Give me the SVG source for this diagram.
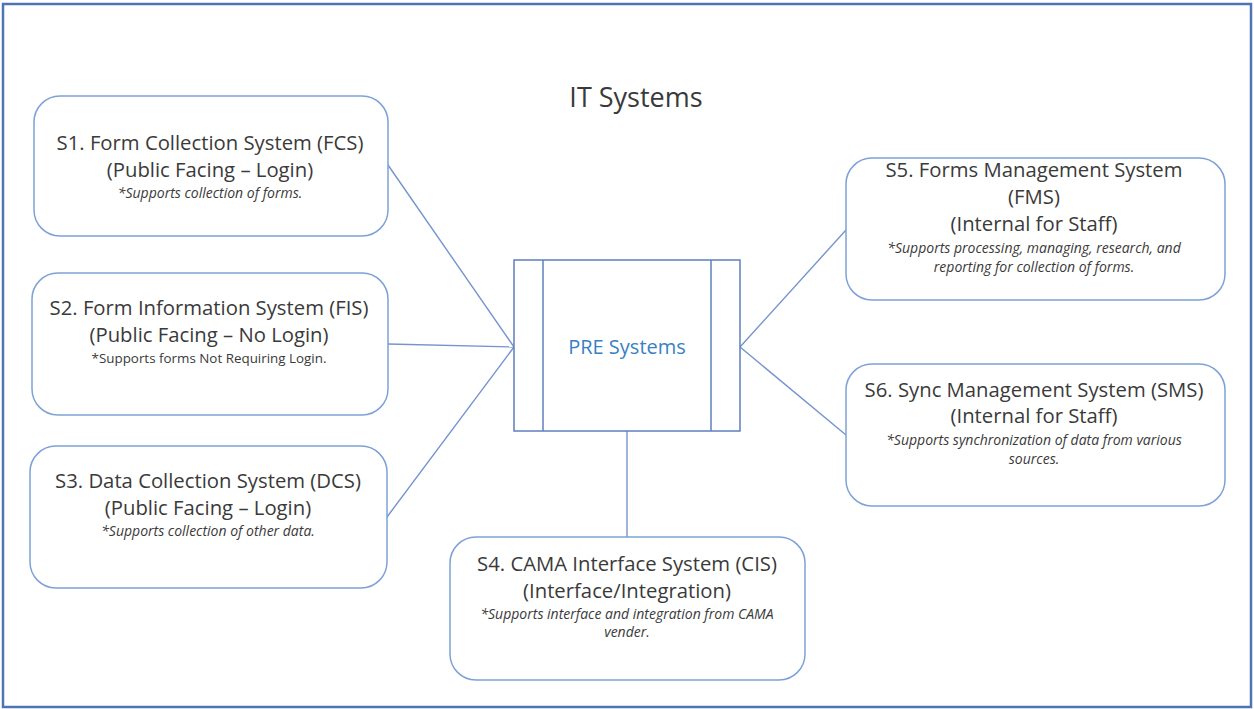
<svg xmlns="http://www.w3.org/2000/svg" width="1254" height="709" viewBox="0 0 1254 709">
  <style>
    .frame { fill: #ffffff; stroke: #4f74b6; stroke-width: 2.5; }
    .node { fill: #ffffff; stroke: #7ea1d8; stroke-width: 1.5; }
    .proc { fill: #ffffff; stroke: #5f7fbd; stroke-width: 1.5; }
    .conn line { stroke: #7593cf; stroke-width: 1.4; }
    text { font-family: "Open Sans", "Liberation Sans", sans-serif; fill: #3a3a3a; text-anchor: middle; }
    .title { font-size: 27px; }
    .main { font-size: 20.3px; }
    .note { font-size: 14px; font-style: italic; }
    .plain { font-size: 13.4px; }
    .pre { font-size: 20px; fill: #3a7fc4; }
  </style>

  <rect class="frame" x="3" y="4" width="1248" height="703"/>
  <text class="title" x="636" y="107">IT Systems</text>

  <!-- connectors between PRE Systems and each subsystem -->
  <g id="connectors" class="conn">
    <line x1="388" y1="165" x2="514" y2="347"/>
    <line x1="388" y1="344" x2="514" y2="347"/>
    <line x1="387" y1="517" x2="514" y2="347"/>
    <line x1="627" y1="431" x2="627" y2="537"/>
    <line x1="846" y1="230" x2="740" y2="347"/>
    <line x1="846" y1="435" x2="740" y2="347"/>
  </g>

  <g id="pre-systems">
    <rect class="proc" x="514" y="260" width="226" height="171"/>
    <line class="proc" x1="543" y1="260" x2="543" y2="431"/>
    <line class="proc" x1="711" y1="260" x2="711" y2="431"/>
    <text class="pre" x="627" y="354">PRE Systems</text>
  </g>

  <g id="s1">
    <rect class="node" x="34" y="96" width="354" height="140" rx="26"/>
    <text class="main" x="210" y="150">S1. Form Collection System (FCS)</text>
    <text class="main" x="210" y="177">(Public Facing – Login)</text>
    <text class="note" x="210" y="198">*Supports collection of forms.</text>
  </g>

  <g id="s2">
    <rect class="node" x="32" y="273" width="356" height="142" rx="26"/>
    <text class="main" x="209" y="315">S2. Form Information System (FIS)</text>
    <text class="main" x="209" y="342">(Public Facing – No Login)</text>
    <text class="plain" x="209" y="363">*Supports forms Not Requiring Login.</text>
  </g>

  <g id="s3">
    <rect class="node" x="30" y="446" width="357" height="142" rx="26"/>
    <text class="main" x="208" y="488">S3. Data Collection System (DCS)</text>
    <text class="main" x="208" y="515">(Public Facing – Login)</text>
    <text class="note" x="208" y="536">*Supports collection of other data.</text>
  </g>

  <g id="s4">
    <rect class="node" x="450" y="537" width="355" height="143" rx="26"/>
    <text class="main" x="627" y="571">S4. CAMA Interface System (CIS)</text>
    <text class="main" x="627" y="598">(Interface/Integration)</text>
    <text class="note" x="627" y="619">*Supports interface and integration from CAMA</text>
    <text class="note" x="627" y="637">vender.</text>
  </g>

  <g id="s5">
    <rect class="node" x="846" y="158" width="379" height="142" rx="26"/>
    <text class="main" x="1034" y="177">S5. Forms Management System</text>
    <text class="main" x="1034" y="204">(FMS)</text>
    <text class="main" x="1034" y="231">(Internal for Staff)</text>
    <text class="note" x="1034" y="253">*Supports processing, managing, research, and</text>
    <text class="note" x="1034" y="272">reporting for collection of forms.</text>
  </g>

  <g id="s6">
    <rect class="node" x="846" y="364" width="379" height="142" rx="26"/>
    <text class="main" x="1034" y="397">S6. Sync Management System (SMS)</text>
    <text class="main" x="1034" y="423">(Internal for Staff)</text>
    <text class="note" x="1034" y="445">*Supports synchronization of data from various</text>
    <text class="note" x="1034" y="464">sources.</text>
  </g>
</svg>
